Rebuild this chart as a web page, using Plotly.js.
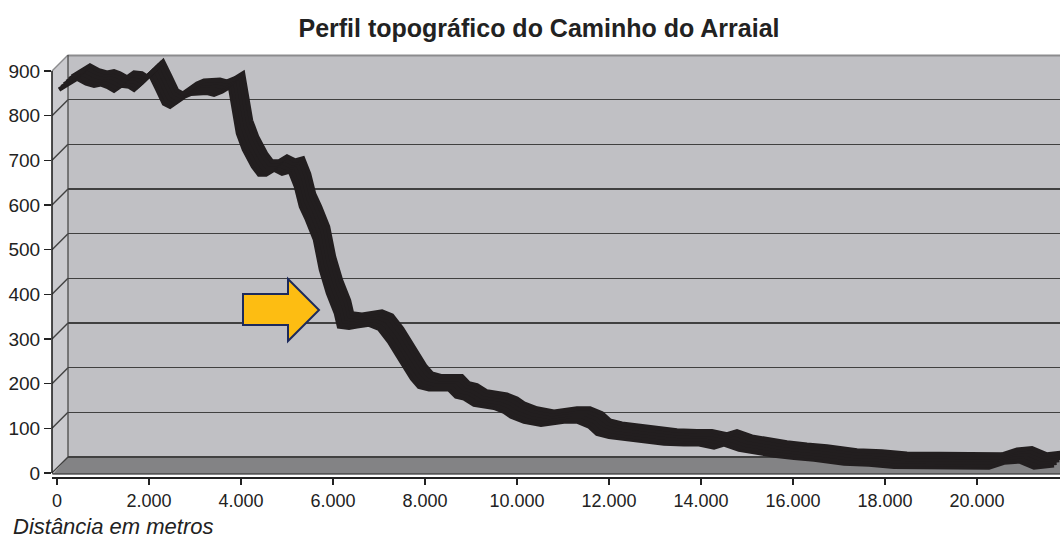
<!DOCTYPE html>
<html><head><meta charset="utf-8">
<script src="https://cdn.plot.ly/plotly-3.0.1.min.js"></script>
<style>html,body{margin:0;padding:0;background:#fff}</style>
</head><body><div id="chart" style="width:1060px;height:540px"></div>
<script>
// ---- data ----
const distances = [22,239,413,609,783,935,1065,1217,1370,1543,
  1652,1826,2000,2152,2304,2435,2587,2739,2891,3065,
  3239,3391,3565,3739,3804,3913,4043,4239,4370,4522,
  4696,4870,5043,5174,5283,5413,5587,5717,5870,6043,
  6109,6326,6500,6761,6978,7130,7196,7370,7522,7696,
  7848,8065,8283,8500,8652,8826,9043,9261,9478,9696,
  9848,10130,10500,11000,11283,11543,11717,11978,12304,12739,
  13174,13609,13935,14261,14478,14804,15130,15565,16000,16435,
  17087,17630,18174,18717,19261,19804,20239,20565,20891,21217,21652];
const elevations = [856,870,881,870,865,868,863,854,865,863,
  856,872,890,858,825,818,829,840,847,849,
  849,845,852,863,818,758,722,684,666,666,
  677,668,673,639,594,565,520,453,400,355,
  326,323,326,330,321,303,292,263,236,209,
  191,185,185,185,169,165,151,147,144,135,
  124,113,106,113,113,102,86,79,75,71,
  64,62,62,55,62,50,44,37,32,28,
  19,17,12,12,12,10,10,21,24,10,15];
const xTickVals = [0,2000,4000,6000,8000,10000,12000,14000,16000,18000,20000];
const yTickVals = [0,100,200,300,400,500,600,700,800,900];
const chartTitle = 'Perfil topográfico do Caminho do Arraial';
const xTitle = 'Distância em metros';

// ---- geometry ----
const L=52, R=1060, T=55, B=477;
const PW=R-L, PH=B-T;
const sx=0.046, sy=402/900;
const X0=-5/sx, Y0=-4/sy;
const X1=X0+PW/sx, Y1=Y0+PH/sy;
const DEPTH=16;
const FONT='Liberation Sans, Arial, sans-serif';
const INK='#222';

const px=v=>(v-L)/PW, py=v=>(B-v)/PH;
const fyPix=v=>B-(v-Y0)*sy;

function axPair(off){
  return {
    x:{domain:[off/PW,1], range:[X0, X1-off/sx], visible:false, fixedrange:true},
    y:{domain:[off/PH,1], range:[Y0, Y1-off/sy], visible:false, fixedrange:true}
  };
}

const layout = {
  width:1060, height:540,
  margin:{l:L, r:1060-R, t:T, b:540-B, pad:0},
  paper_bgcolor:'#fff', plot_bgcolor:'rgba(0,0,0,0)',
  showlegend:false,
  separators:',.',
  font:{family:FONT, size:18, color:INK},
  title:{text:chartTitle, xref:'container', x:539/1060, xanchor:'center',
         yref:'container', y:1-28/540, yanchor:'middle',
         font:{family:FONT, size:25, color:INK, weight:'bold'}},
  xaxis:{domain:[0,1], range:[X0,X1], anchor:'y', tickvals:xTickVals, tickformat:',d',
         ticks:'outside', ticklen:6, tickwidth:1.5, tickcolor:INK,
         showline:true, linecolor:INK, linewidth:2, showgrid:false, zeroline:false,
         tickfont:{family:FONT,size:18,color:INK}, fixedrange:true},
  yaxis:{domain:[0,1], range:[Y0,Y1], anchor:'x', tickvals:yTickVals,
         ticks:'outside', ticklen:7, tickwidth:1.5, tickcolor:INK,
         showline:false, showgrid:false, zeroline:false,
         tickfont:{family:FONT,size:19,color:INK}, fixedrange:true},
  shapes:[], annotations:[]
};

const traces=[];
// invisible carrier traces so the front axes and the back-wall grid are drawn
traces.push({type:'scatter', mode:'lines', x:distances, y:elevations, xaxis:'x', yaxis:'y',
  line:{width:0, color:'rgba(0,0,0,0)'}, hoverinfo:'skip'});

// back wall grid axes
const back = axPair(DEPTH);
layout.xaxis2 = Object.assign(back.x, {anchor:'y2'});
layout.yaxis2 = Object.assign(back.y, {anchor:'x2', visible:true, showticklabels:false, ticks:'',
  tickvals:yTickVals.slice(0,-1), showgrid:true, gridcolor:'#404040', gridwidth:1.6,
  zeroline:false, showline:false});
traces.push({type:'scatter', mode:'lines', x:distances, y:elevations, xaxis:'x2', yaxis:'y2',
  line:{width:0, color:'rgba(0,0,0,0)'}, hoverinfo:'skip'});

// ribbon layers
const offsets=[1,3.6,6.2,8.8,11.4,14];
offsets.forEach((o,i)=>{
  const n=i+3, p=axPair(o);
  layout['xaxis'+n]=Object.assign(p.x,{anchor:'y'+n});
  layout['yaxis'+n]=Object.assign(p.y,{anchor:'x'+n});
  traces.push({type:'scatter', mode:'lines', x:distances, y:elevations,
    xaxis:'x'+n, yaxis:'y'+n, line:{color:'#221e1f', width:4.5},
    hoverinfo:'skip'});
});

// 3D box
function poly(pts){return 'M'+pts.map(p=>px(p[0])+','+py(p[1])).join('L')+'Z';}
function seg(a,b,color,w,layer){
  layout.shapes.push({type:'line', xref:'paper', yref:'paper', layer:layer||'below',
    x0:px(a[0]), y0:py(a[1]), x1:px(b[0]), y1:py(b[1]), line:{color:color,width:w}});
}
const fTop=fyPix(900), fBot=fyPix(0);
layout.shapes.push({type:'path', xref:'paper', yref:'paper', layer:'below',
  path:poly([[L+DEPTH,fBot-DEPTH],[R,fBot-DEPTH],[R,fTop-DEPTH],[L+DEPTH,fTop-DEPTH]]),
  fillcolor:'#c0c0c4', line:{width:0}});
layout.shapes.push({type:'path', xref:'paper', yref:'paper', layer:'below',
  path:poly([[L,fBot],[L,fTop],[L+DEPTH,fTop-DEPTH],[L+DEPTH,fBot-DEPTH]]),
  fillcolor:'#cacace', line:{width:0}});
layout.shapes.push({type:'path', xref:'paper', yref:'paper', layer:'below',
  path:poly([[L,fBot+2],[L+DEPTH,fBot-DEPTH],[R,fBot-DEPTH],[R,fBot+2]]),
  fillcolor:'#838385', line:{width:0}});
yTickVals.slice(0,-1).forEach(v=>{
  const y=fyPix(v);
  seg([L,y],[L+DEPTH,y-DEPTH],'#404040',1.4);
});
seg([L,fTop],[L+DEPTH,fTop-DEPTH],'#8c8c8e',1.5);
seg([L+DEPTH,fTop-DEPTH+0.5],[R,fTop-DEPTH+0.5],'#8c8c8e',2);
seg([L+DEPTH,fTop-DEPTH],[L+DEPTH,fBot-DEPTH],'#4a4a4a',1.3);
seg([L,fTop],[L,fBot],INK,1.6);
seg([L,fBot+0.5],[R,fBot+0.5],'#555',1);

// arrow
layout.shapes.push({type:'path', xref:'paper', yref:'paper', layer:'above',
  path:poly([[243,294],[288,294],[288,279],[319,310],[288,341],[288,325],[243,325]]),
  fillcolor:'#fdbd12', line:{color:'#1c2a5c', width:2}});

layout.annotations.push({text:xTitle, xref:'paper', yref:'paper',
  x:px(11), xanchor:'left', y:py(526), yanchor:'middle', showarrow:false,
  font:{family:FONT, size:22, color:INK, style:'italic'}});

Plotly.newPlot('chart', traces, layout, {staticPlot:true, displayModeBar:false});
</script></body></html>
